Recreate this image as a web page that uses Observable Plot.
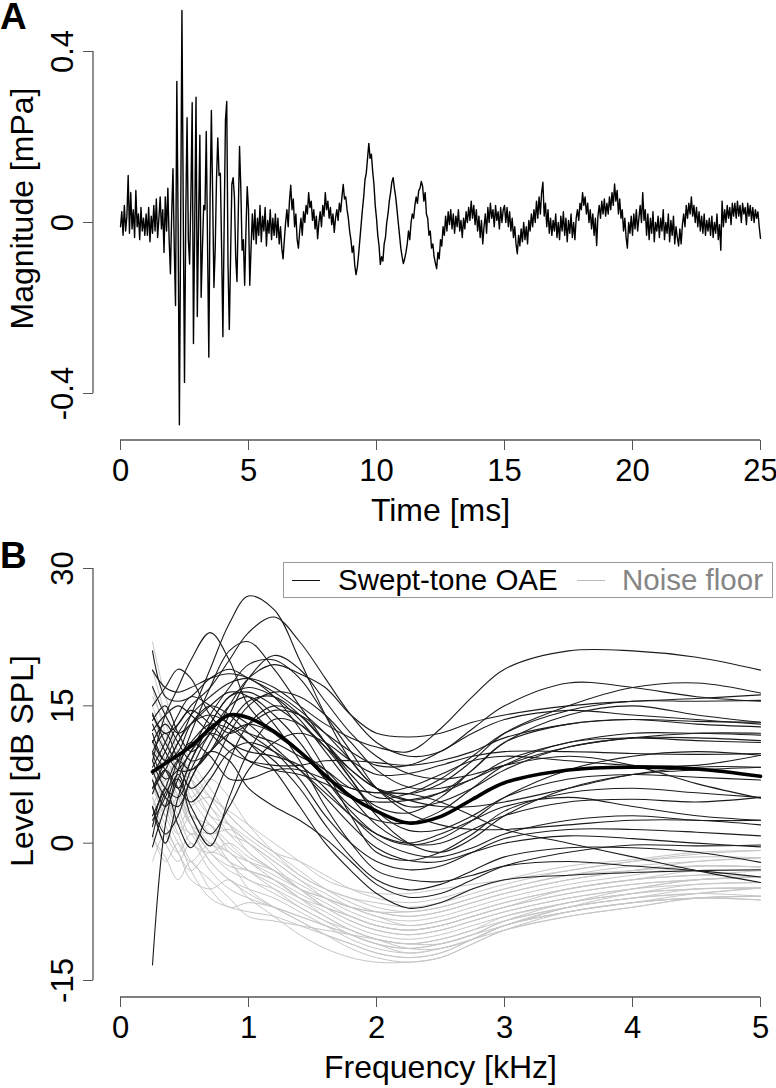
<!DOCTYPE html>
<html><head><meta charset="utf-8">
<script src="https://cdn.jsdelivr.net/npm/d3@7"></script>
<script src="https://cdn.jsdelivr.net/npm/@observablehq/plot@0.6"></script>
<style>
body{margin:0;background:#fff;}
#fig{position:relative;width:776px;height:1088px;font-family:"Liberation Sans",Arial,sans-serif;overflow:hidden;background:#fff}
.panel{position:absolute;left:0}
.tag{position:absolute;left:0px;font-weight:bold;font-size:37px;line-height:1}
#legend{position:absolute;left:283px;top:562px;width:488px;height:34px;border:1.5px solid #999;background:#fff}
#legend .ln{position:absolute;top:17px;height:0;width:28px}
#legend .tx{position:absolute;top:0;line-height:34px;font-size:29.5px;white-space:nowrap}
</style></head><body>
<div id="fig">
  <div id="panelA" class="panel" style="top:0"></div>
  <div id="panelB" class="panel" style="top:540px"></div>
  <div class="tag" style="top:-2px">A</div>
  <div class="tag" style="top:537px">B</div>
  <div id="legend">
    <div class="ln" style="left:8px;border-top:1.5px solid #111"></div>
    <div class="tx" style="left:54px;color:#000">Swept-tone OAE</div>
    <div class="ln" style="left:293px;border-top:1.5px solid #bbb"></div>
    <div class="tx" style="left:338px;color:#858585">Noise floor</div>
  </div>
</div>
<script>
// ---------- Panel A data ----------
const timeTicks = [0, 5, 10, 15, 20, 25];
const magTicks = [-0.4, 0, 0.4];
const sampleStepMs = 0.05;
// waveform samples in µPa (0.001 mPa), one row per millisecond
const magnitudeMicroPa = [
  -10, 25, -30, 40, -20, 15, 110, -25, 70, -15, 30, -35, 75, -10, 20, -40, 35, -20, 10, -30,
  20, -30, 35, -45, 15, -25, 40, -20, 55, -35, 10, 60, -15, 30, -70, 60, -20, 80, -40, -120,
  20, 126, -60, -194, 330, 0, -473, 0, 496, 40, -374, 20, 245, -40, -97, 60, 280, -283, 0, 293,
  -220, 0, 204, -175, -60, 40, 30, 213, -50, -315, 60, 262, 60, -152, -60, 100, 198, 110, 115, -60,
  -267, 0, 240, 283, -100, -250, -80, 90, 105, 60, -80, -138, 20, 178, 80, -65, -40, -147, -20, 84,
  30, -147, -60, 20, -40, 30, -50, 10, -30, 40, -45, 15, -20, 35, -55, 5, -25, 30, -40, 10,
  -30, 20, -35, 10, -50, -10, -60, -85, -40, 0, 30, -10, 50, 87, 30, 55, -10, 20, -40, -60,
  -20, 10, -30, 25, 0, 40, 20, 70, 35, 50, 5, 30, -15, 15, -38, 0, 25, -10, 40, 15,
  70, 30, 50, 10, 35, -5, 20, -23, 10, 30, 5, 45, 25, 60, 89, 55, 60, 30, 10, -20,
  -40, -70, -55, -100, -122, -105, -75, -40, -5, 30, 60, 100, 115, 150, 185, 150, 160, 120, 90, 40,
  10, -30, -55, -98, -80, -90, -50, -35, 0, 20, 50, 70, 95, 105, 80, 60, 30, 0, -30, -60,
  -80, -96, -85, -70, -50, -20, -40, 0, 20, 10, 40, 60, 45, 75, 80, 96, 85, 50, 70, 20,
  10, -30, -20, -60, -50, -80, -95, -108, -70, -85, -40, -55, -10, -30, 15, -20, 25, -5, 30, -15,
  20, -25, 15, -10, 30, -20, 5, -35, 10, -15, 25, 0, 35, 5, 50, 10, 40, -5, 30, -20,
  15, -35, 5, -50, -10, 20, -25, 35, 0, 45, 10, 30, -10, 40, 5, 25, -15, 35, 0, 30,
  40, 0, 35, -10, 25, -20, 10, -35, -10, -50, -73, -30, -55, -15, -45, 0, -40, -10, -50, 5,
  -20, 20, -10, 30, 0, 50, 10, 60, 20, 70, 94, 15, 45, -10, 30, -25, 10, -30, 5, -20,
  20, -35, 0, -40, 15, -20, 25, -30, 10, -45, 5, -25, 20, -35, 0, -40, 10, 30, 5, 45,
  30, 70, 40, 60, 20, 45, 0, 30, -15, 20, -30, 10, -54, 15, 40, 10, 50, 20, 55, 15,
  45, 20, 60, 30, 70, 40, 90, 50, 75, 20, 55, 10, 30, -20, 10, -35, -60, 0, -25, 15,
  -30, 20, -15, 30, -20, 10, 40, 0, 70, 5, 30, -30, 20, -40, 10, -25, 25, -45, 0, -20,
  15, -35, 10, -20, 30, -40, 0, -25, 20, -45, 5, -30, 15, -50, -10, -35, -55, -15, -50, -5,
  20, -10, 40, 10, 45, 20, 60, 15, 40, 0, 35, -10, 25, -20, 15, -25, 20, -30, 5, -20,
  10, -30, 15, -35, 0, -25, 20, -40, -5, -65, 50, -10, 30, 0, 40, 10, 35, -5, 45, 15,
  45, 10, 50, 15, 40, 0, 45, 20, 35, -5, 45, 15, 40, 5, 35, 0, 30, 10, 25, -10,
  -37
];

// ---------- Panel B data ----------
const freqTicks = [0, 1, 2, 3, 4, 5];
const levelTicks = [-15, 0, 15, 30];
const freqKHz = [0.25, 0.35, 0.45, 0.55, 0.7, 0.85, 1.0, 1.2, 1.4, 1.6, 1.8, 2.0, 2.25, 2.5, 2.75, 3.0, 3.5, 4.0, 4.5, 5.0];
const oaeMean = [7.8, 8.7, 9.6, 10.6, 12.5, 14.0, 13.7, 12.2, 10.0, 7.4, 5.1, 3.5, 2.2, 2.9, 4.8, 6.6, 8.0, 8.3, 8.1, 7.3];
const oaeCurves = [
  [12, 9, 11, 14, 19, 24, 27, 25.5, 20, 14, 9, 6, 4, 4.5, 6, 8, 10.5, 11.5, 12, 12],
  [14, 12, 13, 15, 17, 20, 23, 24.7, 22, 18, 14, 11, 9.5, 10, 12.5, 15, 17.5, 17, 16, 15.5],
  [21, 16, 15.5, 16, 18, 19, 18, 16.5, 14.5, 12, 9, 6, 4.7, 5.5, 8, 11, 14, 15, 14, 13.2],
  [-13.3, 2, 8, 12, 17, 21, 22, 19, 15, 11, 7, 3, 0, -1, 0.5, 3, 6, 7.5, 8, 8.3],
  [9, 14, 17, 20, 23, 20, 15, 12, 10, 8, 5, 2, 0, 0, 1.5, 3, 4.5, 4.8, 4.5, 5],
  [6, 9, 12, 14, 16, 17.5, 18, 17, 15, 13, 11.5, 10.5, 10, 12.5, 16, 19, 21, 21, 20.3, 18.9],
  [8, 5, 4, 7, 11, 15, 18, 19.5, 18.5, 17, 14, 12, 11.6, 12, 13.2, 14, 15, 15.5, 15.8, 16.2],
  [4, 0, 5, 9, 13, 16, 17, 16, 13.5, 10, 6.5, 4, 3.3, 5, 8, 11, 13, 13.5, 13, 12.7],
  [10, 12, 9, 6, 8, 12, 15, 16.5, 16, 14, 11, 8, 6.1, 6, 7, 9, 11, 12, 12, 11.8],
  [1.8, 6, 2, -0.5, 4, 9, 13, 15, 14, 11, 7.5, 5, 5.4, 7, 9.5, 12, 14.5, 15.5, 15.5, 15.6],
  [0.7, 5.5, 7, 3, -0.3, 5, 10, 13.5, 13, 10.5, 7, 3.5, 1.4, 1.5, 3, 5, 7, 7.5, 7.2, 6.9],
  [-0.4, 4, 7.5, 4, 1, 4, 8, 11, 12, 11, 9, 7.5, 7.6, 8.5, 9.5, 10, 10, 9.8, 9.7, 9.8],
  [5.4, 8, 6, 4.5, 7, 10, 11, 10, 8, 5.5, 3, 0.5, -1.1, -1.5, -0.5, 1, 2.5, 3, 2.5, 2.5],
  [11.2, 9, 10, 13, 15, 14, 12, 10, 7, 3, 0, -2, -2.9, -2.5, -1, 0.5, 1.5, 1.5, 1.2, 0.8],
  [13.4, 15, 12, 10, 12, 15, 16, 14, 11, 7, 3.5, 1, -0.2, 0.5, 2.5, 5, 8, 9.5, 10, 9.6],
  [14.2, 11, 9, 11, 13, 12.5, 11, 9, 6, 2, -1.5, -4, -5.1, -4.5, -3, -1.5, -0.5, -0.5, -1, -2.1],
  [17.1, 14, 12, 13, 15, 16.5, 16, 13, 9, 4, 0, -3, -4.0, -4.2, -3.5, -2.5, -2, -2.5, -3, -3.7],
  [18.9, 17, 16.5, 17, 18, 18.5, 18, 16, 12.5, 8, 3, -1, -1.9, -1, 1, 3.5, 5.5, 6, 5.5, 5.0],
  [6.9, 4, 7, 10, 12, 11, 9, 8, 7.5, 6.5, 5, 4.5, 4.7, 5.5, 7, 8.5, 10.5, 11.5, 11.5, 11.2],
  [8.3, 11, 14, 16, 15, 13, 12, 11, 9.5, 8, 6, 5.5, 5.4, 4.5, 3, 1.5, 0, -1.5, -3, -4.3],
  [9.8, 7, 8, 10, 14, 17, 19.5, 20, 18, 14, 10, 6, 3.3, 2, 1.5, 1.5, 2, 2.5, 2.5, 2.0],
  [12.3, 14, 15, 14, 12, 10, 9, 8.5, 8.5, 9, 9, 8.8, 8.5, 9, 10, 11.5, 13, 13.5, 13.3, 13.2],
  [4.0, 1, 3, 7, 10, 9, 6, 4, 2.5, 0.5, -2, -4.5, -5.9, -5.5, -4, -2.5, -1, -0.2, -0.3, -0.2],
  [6, 8, 11, 13, 14, 13, 11, 8, 4, 0, -3, -5.5, -7.1, -6.5, -5, -4, -3.5, -3.2, -3, -2.9],
  [3, 6, 9, 8, 10, 14, 18, 20.5, 19, 15.5, 12, 9.5, 7.6, 7, 7.5, 8.5, 9.5, 8.5, 6.5, 4.9],
  [10, 8, 6, 9, 13, 16, 16.5, 15, 13, 10.5, 8, 6, 5.4, 6.5, 9, 12, 15, 17, 17.5, 16.4],
  [7.5, 10, 13, 14.5, 13, 11, 10, 9.5, 8.5, 6, 3, 1, 0, 1, 2.5, 4, 5, 4, 3, 2.5],
  [13, 10, 8, 8, 10, 12, 13, 12, 10, 7, 4, 2.5, 2.2, 3.5, 6, 8.5, 11, 11.5, 11.2, 11.0],
  [11, 13, 11, 9, 10, 13, 15.5, 16, 14, 11, 8, 6, 4.7, 4, 4, 4.5, 6, 7.5, 8.3, 8.3],
  [9, 6, 5, 8, 12, 14, 13, 10.5, 8, 5, 2, -0.5, -1.9, -2, -1, 0, 0.8, 0.5, 0.0, -0.4],
  [15, 17, 19, 18, 14, 12, 13, 14.5, 14, 12, 10, 8.5, 8.5, 10, 12, 13.5, 14.5, 14, 13.5, 13.0],
  [2.5, 5, 9, 11, 9.5, 7, 7, 8, 8, 7, 6, 5.5, 6.1, 7.5, 9, 9.5, 9, 8.5, 8.5, 9.6]
];
const noiseCurves = [
  [22, 16, 12, 9, 6, 3, 1, -1, -3, -5, -6.5, -7.5, -8, -7.5, -6.5, -5.5, -4, -3, -2, -1.6],
  [14, 10, 6, 3, 2, 0, -2, -4, -6, -7.5, -9, -10, -10.5, -10, -9, -8, -6.5, -5, -4, -3.7],
  [8, 4, 1, 3, 1, -2, -4, -5, -6.5, -8, -9.5, -10.5, -11, -10.5, -9.5, -8.5, -7, -6, -5.5, -5.8],
  [5, 2, -1, -3, -1, -2, -5, -7, -8.5, -10, -11.5, -12.5, -13, -12.5, -11, -9.5, -7.5, -6.5, -6, -6.2],
  [11, 7, 4, 6, 4, 1, -1, -3, -5, -6, -7, -8, -8.5, -8, -7, -6, -4.5, -3.5, -2.5, -2.6],
  [17, 12, 8, 7, 5, 3.5, 2, 0, -2, -4, -5, -5.5, -5.5, -5, -4.5, -4, -3, -2, -1.2, -0.8],
  [3, 0, -2, 0, -3, -5, -6, -7, -8, -9, -10, -11, -11.5, -11, -10, -9, -7, -5.5, -5, -4.9],
  [9, 11, 7, 3, 0, -1, -3, -4.5, -6, -7, -8, -9, -9.5, -9, -8, -7, -5.5, -4.5, -4, -3.7],
  [1, -2, 0, -3, -6, -7, -7.5, -8, -9, -10, -11, -12, -12.5, -12, -10.5, -9, -7.5, -6.5, -6, -5.8],
  [6, 8, 4, 1, 2, -1, -2, -3, -4.5, -6, -7, -7.5, -8, -7.5, -6.5, -5.5, -4, -3, -2.5, -2.6],
  [12, 9, 10, 7, 3, 1, 0, -2, -4, -5.5, -7, -8, -9, -8.5, -7.5, -6.5, -5, -4, -3.5, -3.0],
  [2, 4, 1, -2, -4, -6, -8, -8.5, -9, -9.5, -10, -10.5, -11, -10.5, -9.5, -8, -6.5, -5.5, -5, -4.9],
  [15, 11, 8, 5, 7, 5, 2, -1, -3.5, -5, -6, -7, -7.5, -7, -6, -5, -3.5, -2.5, -2, -1.6],
  [7, 3, 5, 2, -1, -3, -4, -5.5, -7, -8.5, -9.5, -10.5, -11, -11, -10, -8.5, -6.5, -5.5, -4.5, -4.3],
  [-2, 1, -1, -4, -5, -4, -6, -8, -10, -11.5, -12.5, -13, -13, -12.5, -11, -9.5, -8, -7, -6, -5.8],
  [10, 6, 3, 0, -1, 0, -1.5, -3, -5, -7, -8.5, -9.5, -10, -9.5, -8.5, -7.5, -6, -5, -4, -3.7],
  [4, 7, 9, 6, 3, 2, 0.5, -1.5, -3.5, -5, -6, -6.5, -7, -6.5, -5.5, -4.5, -3, -2, -1.5, -1.6],
  [13, 9, 5, 2, -1, -2.5, -3, -4, -6, -8, -9.5, -10.5, -11.5, -11.5, -10.5, -9, -7, -6, -5, -4.9],
  [0.5, -1.5, -4, -2, -5, -7, -6.5, -7, -8, -9, -10, -11, -12, -11.5, -10.5, -9.5, -8, -7, -6, -5.8],
  [8, 5, 2, 4, 5, 3, 1, -1, -2, -3.5, -5, -6, -6.5, -6, -5, -4, -2.5, -1.8, -1, -0.8],
  [19, 14, 10, 7, 4, 2, 0, -2.5, -5, -7, -8.5, -9.5, -10, -9.5, -8.5, -7.5, -6, -5, -4.5, -4.3],
  [6, 3, 0, -2, 0, -1, -3, -5, -7, -8.5, -10, -11, -11.5, -11, -10, -8.5, -7, -6, -5.5, -4.9],
  [9, 6, 8, 5, 2, -0.5, -2, -3.5, -5, -6, -7, -7.5, -7.5, -7, -6, -5, -3.5, -3, -2.5, -2.6],
  [3, 5, 2, 1, -2, -4, -5, -6, -7.5, -9, -10.5, -11.5, -12, -11.5, -10.5, -9, -7.5, -6.5, -6, -6.2],
  [11, 8, 5, 2, 1, 1.5, 0, -2, -4, -6, -7.5, -8.5, -9, -8.5, -7.5, -6.5, -5, -4, -3, -3.0],
  [16, 13, 10, 8, 5, 2, -1, -3, -5, -6.5, -8, -9, -9.5, -9, -8, -7, -5, -4, -3.5, -3.7],
  [5, 1, -1, 1, 0, -2, -3, -4, -5.5, -7, -8, -9, -9.5, -9, -8, -7, -5.5, -4.5, -4, -3.7],
  [7, 9, 6, 2, -2, -4, -5.5, -7, -8.5, -10, -11, -12, -12.5, -12, -10.5, -9, -7.5, -6.5, -5.5, -4.9]
];

// ---------- build tables ----------
const FONT = '"Liberation Sans", Arial, sans-serif';
const AXIS = "#555";
const waveform = magnitudeMicroPa.map((u, i) => ({t: i * sampleStepMs, v: u / 1000}));
const toRows = (curves) => curves.flatMap((c, id) => c.map((level, j) => ({id, f: freqKHz[j], level})));
const noiseRows = toRows(noiseCurves);
const oaeRows = toRows(oaeCurves);
const meanRows = toRows([oaeMean]);

function axisLines(xt, yt) {
  return (index, scales, values, dims) => {
    const g = d3.create("svg:g").attr("stroke", AXIS).attr("stroke-width", 1.3).attr("fill", "none");
    const x0 = dims.marginLeft - 27;
    g.append("line").attr("x1", x0).attr("x2", x0)
      .attr("y1", scales.y(yt[0])).attr("y2", scales.y(yt[yt.length - 1]));
    const yb = dims.height - dims.marginBottom;
    g.append("line").attr("x1", scales.x(xt[0])).attr("x2", scales.x(xt[xt.length - 1]))
      .attr("y1", yb).attr("y2", yb);
    return g.node();
  };
}

function commonMarks(xt, yt, xTitle, yTitle, yTitleDy) {
  return [
    axisLines(xt, yt),
    Plot.axisX({ticks: xt, tickSize: 10, tickPadding: 8, stroke: AXIS, fill: "black", fontSize: 31, label: null, tickFormat: d => String(d)}),
    Plot.axisY({ticks: yt, tickSize: 10, dx: -27, stroke: AXIS, label: null, tickFormat: () => ""}),
    Plot.text(yt, {y: d => d, text: d => String(d), frameAnchor: "left", dx: -57, rotate: -90, textAnchor: "middle", lineAnchor: "middle", fontSize: 31, fill: "black"}),
    Plot.text([xTitle], {text: d => d, frameAnchor: "bottom", dy: 70, textAnchor: "middle", lineAnchor: "middle", fontSize: 32, fill: "black"}),
    Plot.text([yTitle], {text: d => d, frameAnchor: "left", dx: -98, dy: yTitleDy, rotate: -90, textAnchor: "middle", lineAnchor: "middle", fontSize: 32, fill: "black"})
  ];
}

const chartA = Plot.plot({
  width: 776, height: 540,
  marginLeft: 120, marginRight: 16, marginTop: 0, marginBottom: 100,
  x: {domain: [0, 25], label: null},
  y: {domain: [-0.4, 0.4], range: [393, 51], label: null},
  style: {fontFamily: FONT, background: "white", color: "black", overflow: "visible"},
  marks: [
    ...commonMarks(timeTicks, magTicks, "Time [ms]", "Magnitude [mPa]", -12),
    Plot.line(waveform, {x: "t", y: "v", stroke: "#000", strokeWidth: 1.4})
  ]
});
document.getElementById("panelA").appendChild(chartA);

const chartB = Plot.plot({
  width: 776, height: 548,
  marginLeft: 120, marginRight: 16, marginTop: 0, marginBottom: 91,
  x: {domain: [0, 5], label: null},
  y: {domain: [-15, 30], range: [440, 28], label: null},
  style: {fontFamily: FONT, background: "white", color: "black", overflow: "visible"},
  marks: [
    ...commonMarks(freqTicks, levelTicks, "Frequency [kHz]", "Level [dB SPL]", -8),
    Plot.line(noiseRows, {x: "f", y: "level", z: "id", stroke: "#c6c6c6", strokeWidth: 1, curve: "catmull-rom"}),
    Plot.line(oaeRows, {x: "f", y: "level", z: "id", stroke: "#1c1c1c", strokeWidth: 1.1, curve: "catmull-rom"}),
    Plot.line(meanRows, {x: "f", y: "level", z: "id", stroke: "#000", strokeWidth: 3.6, curve: "catmull-rom"})
  ]
});
document.getElementById("panelB").appendChild(chartB);
</script>
</body></html>
